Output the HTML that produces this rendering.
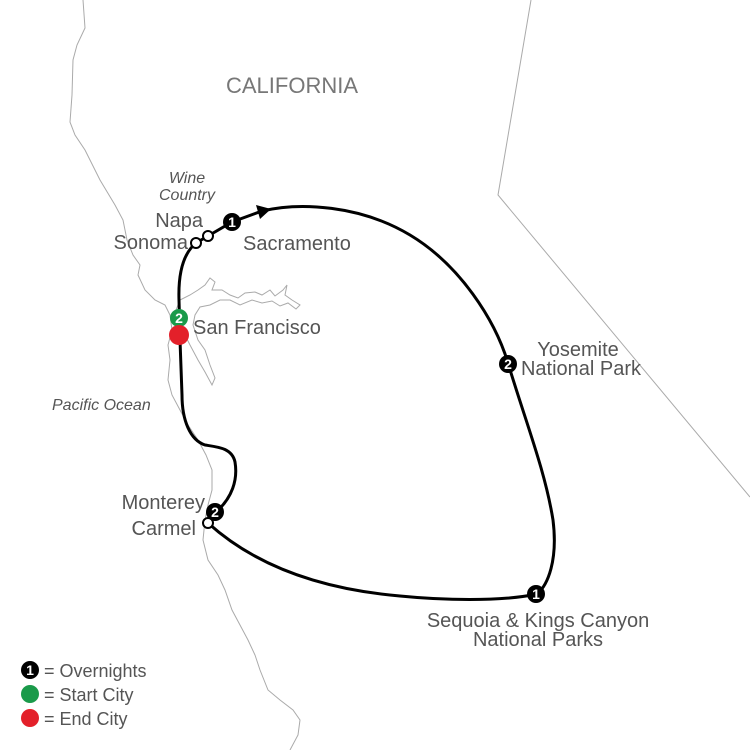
<!DOCTYPE html>
<html><head><meta charset="utf-8"><style>
html,body{margin:0;padding:0;background:#fff;}
svg{display:block;}
text{font-family:"Liberation Sans",sans-serif;fill:#555;}
</style></head><body>
<svg width="750" height="750" viewBox="0 0 750 750" xmlns="http://www.w3.org/2000/svg">
<polyline points="531,0 498,195 750,497" fill="none" stroke="#aaa" stroke-width="1"/>
<polyline fill="none" stroke="#aaa" stroke-width="1" points="83,0 85,28 77,45 73,60 72,95 70,122 75,135 85,150 100,180 115,205 123,220 127,240 133,255 140,265 138,275 145,290 155,300 165,305 170,315 172,330 168,345 170,360 168,380 172,395 180,410 188,425 198,440 206,455 212,470 212,490 208,505 205,520 203,540 208,560 218,575 225,590 232,610 240,625 248,640 255,655 260,670 268,690 280,700 293,710 300,720 298,735 290,750"/>
<polyline fill="none" stroke="#aaa" stroke-width="1" points="176,310 180,300 190,295 198,290 205,285 210,278 215,282 212,290 222,290 230,295 238,298 245,293 255,292 262,295 270,290 275,296 283,290 287,285 285,295 292,300 300,305 296,309 288,303 280,306 272,301 262,303 252,300 240,305 230,300 220,300 210,305 200,307 195,315 193,325 198,340 205,350 210,365 215,378 212,385 205,372 198,360 190,345 185,335 180,325"/>
<path fill="none" stroke="#000" stroke-width="3" d="M180,335 L179,300 C178,270 185,252 196,243 L208,236 L232,222 L262,211 C300,202 360,205 410,235 C460,265 495,320 508,363 C525,420 545,470 553,520 C558,560 548,585 537,594 C500,602 440,600 400,596 C330,590 260,570 208,523 L216,512 C232,498 238,480 235,462 C232,448 218,447 205,445 C190,440 182,420 182,395 L180,340"/>
<polygon points="271,209 256,205 260,219" fill="#000"/>
<circle cx="196" cy="243" r="5" fill="#fff" stroke="#000" stroke-width="2"/>
<circle cx="208" cy="236" r="5" fill="#fff" stroke="#000" stroke-width="2"/>
<circle cx="208" cy="523" r="5" fill="#fff" stroke="#000" stroke-width="2"/>
<g font-weight="bold" font-size="14" text-anchor="middle">
<circle cx="232" cy="222" r="9" fill="#000"/><text x="232" y="227" style="fill:#fff">1</text>
<circle cx="508" cy="364" r="9" fill="#000"/><text x="508" y="369" style="fill:#fff">2</text>
<circle cx="536" cy="594" r="9" fill="#000"/><text x="536" y="599" style="fill:#fff">1</text>
<circle cx="215" cy="512" r="9" fill="#000"/><text x="215" y="517" style="fill:#fff">2</text>
<circle cx="179" cy="318" r="9" fill="#1a9a4a"/><text x="179" y="323" style="fill:#fff">2</text>
</g>
<circle cx="179" cy="335" r="10" fill="#e3202a"/>
<text x="292" y="93" font-size="22" text-anchor="middle" style="fill:#777">CALIFORNIA</text>
<text x="187" y="183" font-size="16" font-style="italic" text-anchor="middle">Wine</text>
<text x="187" y="200" font-size="16" font-style="italic" text-anchor="middle">Country</text>
<text x="203" y="227" font-size="20" text-anchor="end">Napa</text>
<text x="188" y="249" font-size="20" text-anchor="end">Sonoma</text>
<text x="243" y="250" font-size="20">Sacramento</text>
<text x="193" y="334" font-size="20">San Francisco</text>
<text x="52" y="410" font-size="16" font-style="italic">Pacific Ocean</text>
<text x="578" y="356" font-size="20" text-anchor="middle">Yosemite</text>
<text x="581" y="375" font-size="20" text-anchor="middle">National Park</text>
<text x="205" y="509" font-size="20" text-anchor="end">Monterey</text>
<text x="196" y="535" font-size="20" text-anchor="end">Carmel</text>
<text x="538" y="627" font-size="20" text-anchor="middle">Sequoia &amp; Kings Canyon</text>
<text x="538" y="646" font-size="20" text-anchor="middle">National Parks</text>
<circle cx="30" cy="670" r="9" fill="#000"/><text x="30" y="675" font-size="14" font-weight="bold" text-anchor="middle" style="fill:#fff">1</text>
<circle cx="30" cy="694" r="9" fill="#1a9a4a"/>
<circle cx="30" cy="718" r="9" fill="#e3202a"/>
<text x="44" y="677" font-size="18">= Overnights</text>
<text x="44" y="701" font-size="18">= Start City</text>
<text x="44" y="725" font-size="18">= End City</text>
</svg>
</body></html>
